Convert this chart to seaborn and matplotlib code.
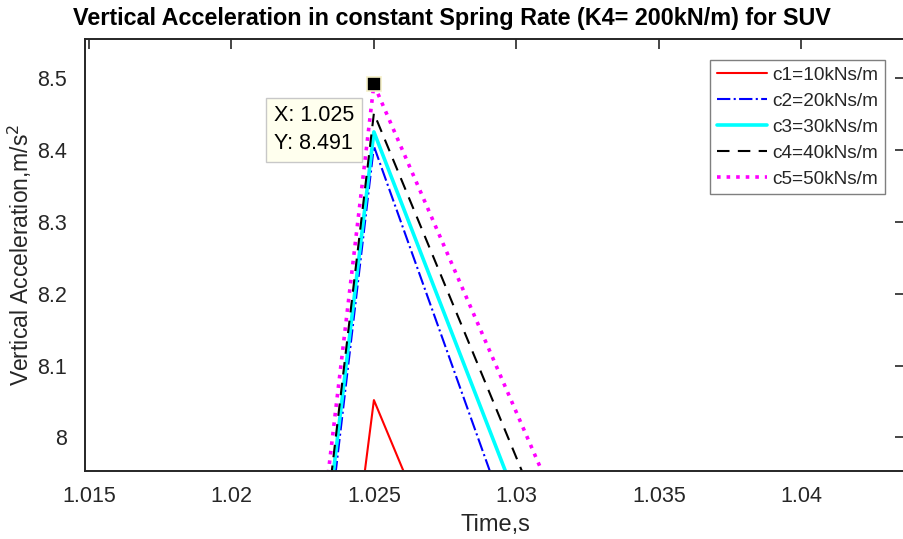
import numpy as np
import pandas as pd
import matplotlib
matplotlib.use("Agg")
import matplotlib.pyplot as plt
import seaborn as sns

# ---- data ----
time = [1.020, 1.025, 1.035]
c1 = [6.498, 8.052, 7.101]
c2 = [6.715, 8.405, 7.295]
c3 = [6.761, 8.425, 7.403]
c4 = [6.767, 8.451, 7.493]
c5 = [6.804, 8.491, 7.579]
labels = ["c1=10kNs/m", "c2=20kNs/m", "c3=30kNs/m", "c4=40kNs/m", "c5=50kNs/m"]
xticks = [1.015, 1.02, 1.025, 1.03, 1.035, 1.04]
xticklabels = ["1.015", "1.02", "1.025", "1.03", "1.035", "1.04"]
yticks = [8.0, 8.1, 8.2, 8.3, 8.4, 8.5]
yticklabels = ["8", "8.1", "8.2", "8.3", "8.4", "8.5"]
tip_x = 1.025
tip_y = 8.491

sns.set_style("white")
plt.rcParams["font.family"] = ["Liberation Sans", "DejaVu Sans"]

fig = plt.figure(figsize=(9.04, 5.39), dpi=100)
ax = fig.add_axes([85 / 904, 68.3 / 539, (905 - 85) / 904, (470.7 - 39) / 539])

series = [c1, c2, c3, c4, c5]
colors = ["#FF0000", "#0000FF", "#00FFFF", "#000000", "#FF00FF"]
styles = ["-", "-.", "-", (0, (6, 4)), ":"]
widths = [1.5, 1.5, 2.6, 1.5, 2.6]

for vals, lab, col, ls, lw in zip(series, labels, colors, styles, widths):
    df = pd.DataFrame({"t": time, "a": vals})
    sns.lineplot(data=df, x="t", y="a", ax=ax, color=col, linestyle=ls,
                 linewidth=lw, label=lab, sort=False)

ax.set_xlim(1.01486, 1.04364)
ax.set_ylim(7.9538, 8.5542)
ax.set_xticks(xticks)
ax.set_xticklabels(xticklabels)
ax.set_yticks(yticks)
ax.set_yticklabels(yticklabels)

dark = "#262626"
for sp in ax.spines.values():
    sp.set_color(dark)
    sp.set_linewidth(1.4)
ax.tick_params(axis="both", direction="in", length=7, width=1.2, color=dark,
               labelcolor=dark, labelsize=15.5, top=True, right=True)
ax.tick_params(axis="x", pad=11)
ax.tick_params(axis="y", pad=13)

ax.set_xlabel("Time,s", fontsize=17, color=dark, labelpad=5)
ax.set_ylabel("Vertical Acceleration,m/s$^2$", fontsize=16.5, color=dark, labelpad=2)

fig.text(452 / 904, 1 - 19 / 539,
         "Vertical Acceleration in constant Spring Rate (K4= 200kN/m) for SUV",
         ha="center", va="center", fontsize=16.8, fontweight="bold", color="black")

leg = ax.legend(loc="upper right", bbox_to_anchor=(1 - 20 / 820, 1 - 21 / 431.7),
                fontsize=13.7, frameon=True, fancybox=False, handlelength=2.6,
                handletextpad=0.3, labelspacing=0.45, borderpad=0.35,
                borderaxespad=0)
leg.get_frame().set_edgecolor("#7f7f7f")
leg.get_frame().set_linewidth(1.0)
leg.get_frame().set_alpha(1)

# data tip
ax.plot([tip_x], [tip_y], marker="s", markersize=10.5, color="black",
        markeredgecolor="#f5f0c8", markeredgewidth=1.2, zorder=10)
ax.annotate(f"X: {tip_x:.3f}\nY: {tip_y:.3f}", xy=(tip_x, tip_y),
            xytext=(-100, -21), textcoords="offset pixels", ha="left", va="top",
            fontsize=15.5, color="black", linespacing=1.42,
            bbox=dict(boxstyle="square,pad=0.36", fc="#FFFFEE", ec="#c8c8c8", lw=1.0),
            zorder=11)

fig.savefig("out.png", dpi=100)
